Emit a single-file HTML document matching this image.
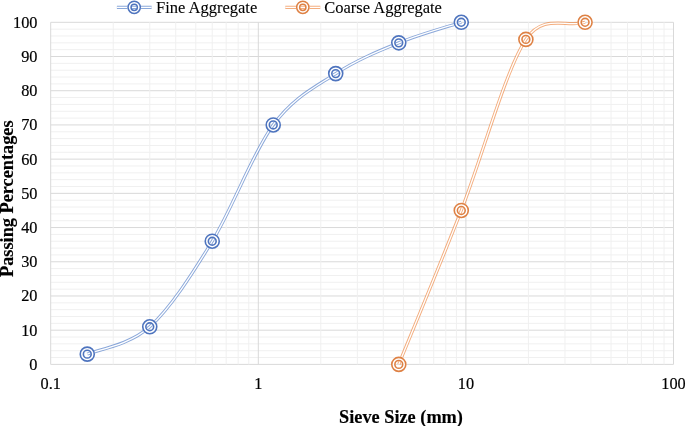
<!DOCTYPE html>
<html><head><meta charset="utf-8"><style>
html,body{margin:0;padding:0;background:#fff;}
body{width:685px;height:426px;overflow:hidden;}
svg{display:block;}
#w{will-change:transform;width:685px;height:426px;}
text{font-family:"Liberation Serif",serif;font-size:16.3px;fill:#000;stroke:#000;stroke-width:0.2px;}
</style></head><body><div id="w">
<svg width="685" height="426" viewBox="0 0 685 426">
<path d="M50.70 357.56H673.50M50.70 350.72H673.50M50.70 343.87H673.50M50.70 337.03H673.50M50.70 323.35H673.50M50.70 316.51H673.50M50.70 309.66H673.50M50.70 302.82H673.50M50.70 289.14H673.50M50.70 282.30H673.50M50.70 275.45H673.50M50.70 268.61H673.50M50.70 254.93H673.50M50.70 248.09H673.50M50.70 241.24H673.50M50.70 234.40H673.50M50.70 220.72H673.50M50.70 213.88H673.50M50.70 207.03H673.50M50.70 200.19H673.50M50.70 186.51H673.50M50.70 179.67H673.50M50.70 172.82H673.50M50.70 165.98H673.50M50.70 152.30H673.50M50.70 145.46H673.50M50.70 138.61H673.50M50.70 131.77H673.50M50.70 118.09H673.50M50.70 111.25H673.50M50.70 104.40H673.50M50.70 97.56H673.50M50.70 83.88H673.50M50.70 77.04H673.50M50.70 70.19H673.50M50.70 63.35H673.50M50.70 49.67H673.50M50.70 42.83H673.50M50.70 35.98H673.50M50.70 29.14H673.50" stroke="#f0f0f0" stroke-width="1" fill="none"/><path d="M50.70 364.40H673.50M50.70 330.19H673.50M50.70 295.98H673.50M50.70 261.77H673.50M50.70 227.56H673.50M50.70 193.35H673.50M50.70 159.14H673.50M50.70 124.93H673.50M50.70 90.72H673.50M50.70 56.51H673.50M50.70 22.30H673.50" stroke="#d9d9d9" stroke-width="1" fill="none"/><path d="M113.19 22.30V364.40M149.75 22.30V364.40M175.69 22.30V364.40M195.81 22.30V364.40M212.24 22.30V364.40M226.14 22.30V364.40M238.18 22.30V364.40M248.80 22.30V364.40M320.79 22.30V364.40M357.35 22.30V364.40M383.29 22.30V364.40M403.41 22.30V364.40M419.84 22.30V364.40M433.74 22.30V364.40M445.78 22.30V364.40M456.40 22.30V364.40M528.39 22.30V364.40M564.95 22.30V364.40M590.89 22.30V364.40M611.01 22.30V364.40M627.44 22.30V364.40M641.34 22.30V364.40M653.38 22.30V364.40M664.00 22.30V364.40" stroke="#f0f0f0" stroke-width="1" fill="none"/><path d="M50.70 22.30V364.40M258.30 22.30V364.40M465.90 22.30V364.40M673.50 22.30V364.40" stroke="#d9d9d9" stroke-width="1" fill="none"/><path d="M87.26 354.14 C97.68 349.58 128.92 345.59 149.75 326.77 C170.58 307.95 191.66 274.88 212.24 241.24 C232.82 207.60 252.64 152.87 273.22 124.93 C293.80 96.99 314.79 87.30 335.72 73.62 C356.65 59.94 377.85 51.38 398.78 42.83 C419.71 34.28 450.86 25.72 461.28 22.30" fill="none" stroke="#4472C4" stroke-opacity="0.62" stroke-width="3.2"/><path d="M87.26 354.14 C97.68 349.58 128.92 345.59 149.75 326.77 C170.58 307.95 191.66 274.88 212.24 241.24 C232.82 207.60 252.64 152.87 273.22 124.93 C293.80 96.99 314.79 87.30 335.72 73.62 C356.65 59.94 377.85 51.38 398.78 42.83 C419.71 34.28 450.86 25.72 461.28 22.30" fill="none" stroke="#fff" stroke-width="1.3"/><path d="M398.78 364.40 C409.20 338.74 440.10 264.62 461.28 210.45 C482.46 156.28 505.25 70.76 525.88 39.40 C543.19 13.08 566.34 27.71 585.07 22.30" fill="none" stroke="#ED7D31" stroke-opacity="0.62" stroke-width="3.2"/><path d="M398.78 364.40 C409.20 338.74 440.10 264.62 461.28 210.45 C482.46 156.28 505.25 70.76 525.88 39.40 C543.19 13.08 566.34 27.71 585.07 22.30" fill="none" stroke="#fff" stroke-width="1.3"/><circle cx="87.26" cy="354.14" r="5.450" fill="none" stroke="#fff" stroke-width="4.700"/><circle cx="87.26" cy="354.14" r="7.000" fill="none" stroke="#456DBA" stroke-opacity="0.95" stroke-width="1.6"/><circle cx="87.26" cy="354.14" r="3.900" fill="none" stroke="#456DBA" stroke-opacity="0.95" stroke-width="1.6"/><circle cx="149.75" cy="326.77" r="5.450" fill="none" stroke="#fff" stroke-width="4.700"/><circle cx="149.75" cy="326.77" r="7.000" fill="none" stroke="#456DBA" stroke-opacity="0.95" stroke-width="1.6"/><circle cx="149.75" cy="326.77" r="3.900" fill="none" stroke="#456DBA" stroke-opacity="0.95" stroke-width="1.6"/><circle cx="212.24" cy="241.24" r="5.450" fill="none" stroke="#fff" stroke-width="4.700"/><circle cx="212.24" cy="241.24" r="7.000" fill="none" stroke="#456DBA" stroke-opacity="0.95" stroke-width="1.6"/><circle cx="212.24" cy="241.24" r="3.900" fill="none" stroke="#456DBA" stroke-opacity="0.95" stroke-width="1.6"/><circle cx="273.22" cy="124.93" r="5.450" fill="none" stroke="#fff" stroke-width="4.700"/><circle cx="273.22" cy="124.93" r="7.000" fill="none" stroke="#456DBA" stroke-opacity="0.95" stroke-width="1.6"/><circle cx="273.22" cy="124.93" r="3.900" fill="none" stroke="#456DBA" stroke-opacity="0.95" stroke-width="1.6"/><circle cx="335.72" cy="73.62" r="5.450" fill="none" stroke="#fff" stroke-width="4.700"/><circle cx="335.72" cy="73.62" r="7.000" fill="none" stroke="#456DBA" stroke-opacity="0.95" stroke-width="1.6"/><circle cx="335.72" cy="73.62" r="3.900" fill="none" stroke="#456DBA" stroke-opacity="0.95" stroke-width="1.6"/><circle cx="398.78" cy="42.83" r="5.450" fill="none" stroke="#fff" stroke-width="4.700"/><circle cx="398.78" cy="42.83" r="7.000" fill="none" stroke="#456DBA" stroke-opacity="0.95" stroke-width="1.6"/><circle cx="398.78" cy="42.83" r="3.900" fill="none" stroke="#456DBA" stroke-opacity="0.95" stroke-width="1.6"/><circle cx="461.28" cy="22.3" r="5.450" fill="none" stroke="#fff" stroke-width="4.700"/><circle cx="461.28" cy="22.3" r="7.000" fill="none" stroke="#456DBA" stroke-opacity="0.95" stroke-width="1.6"/><circle cx="461.28" cy="22.3" r="3.900" fill="none" stroke="#456DBA" stroke-opacity="0.95" stroke-width="1.6"/><circle cx="398.78" cy="364.4" r="5.450" fill="none" stroke="#fff" stroke-width="4.700"/><circle cx="398.78" cy="364.4" r="7.000" fill="none" stroke="#DC7A3A" stroke-opacity="0.95" stroke-width="1.6"/><circle cx="398.78" cy="364.4" r="3.900" fill="none" stroke="#DC7A3A" stroke-opacity="0.95" stroke-width="1.6"/><circle cx="461.28" cy="210.45" r="5.450" fill="none" stroke="#fff" stroke-width="4.700"/><circle cx="461.28" cy="210.45" r="7.000" fill="none" stroke="#DC7A3A" stroke-opacity="0.95" stroke-width="1.6"/><circle cx="461.28" cy="210.45" r="3.900" fill="none" stroke="#DC7A3A" stroke-opacity="0.95" stroke-width="1.6"/><circle cx="525.88" cy="39.4" r="5.450" fill="none" stroke="#fff" stroke-width="4.700"/><circle cx="525.88" cy="39.4" r="7.000" fill="none" stroke="#DC7A3A" stroke-opacity="0.95" stroke-width="1.6"/><circle cx="525.88" cy="39.4" r="3.900" fill="none" stroke="#DC7A3A" stroke-opacity="0.95" stroke-width="1.6"/><circle cx="585.07" cy="22.3" r="5.450" fill="none" stroke="#fff" stroke-width="4.700"/><circle cx="585.07" cy="22.3" r="7.000" fill="none" stroke="#DC7A3A" stroke-opacity="0.95" stroke-width="1.6"/><circle cx="585.07" cy="22.3" r="3.900" fill="none" stroke="#DC7A3A" stroke-opacity="0.95" stroke-width="1.6"/><path d="M116.9 7.4H151.6" stroke="#4472C4" stroke-opacity="0.62" stroke-width="3.2"/><path d="M116.9 7.4H151.6" stroke="#fff" stroke-width="1.3"/><circle cx="134.2" cy="7.3" r="4.650" fill="none" stroke="#fff" stroke-width="4.500"/><circle cx="134.2" cy="7.3" r="6.150" fill="none" stroke="#456DBA" stroke-opacity="0.95" stroke-width="1.5"/><circle cx="134.2" cy="7.3" r="3.150" fill="none" stroke="#456DBA" stroke-opacity="0.95" stroke-width="1.5"/><path d="M285.3 7.4H320.3" stroke="#ED7D31" stroke-opacity="0.62" stroke-width="3.2"/><path d="M285.3 7.4H320.3" stroke="#fff" stroke-width="1.3"/><circle cx="302.8" cy="7.3" r="4.650" fill="none" stroke="#fff" stroke-width="4.500"/><circle cx="302.8" cy="7.3" r="6.150" fill="none" stroke="#DC7A3A" stroke-opacity="0.95" stroke-width="1.5"/><circle cx="302.8" cy="7.3" r="3.150" fill="none" stroke="#DC7A3A" stroke-opacity="0.95" stroke-width="1.5"/>
<text x="37.5" y="369.90" text-anchor="end">0</text><text x="37.5" y="335.69" text-anchor="end">10</text><text x="37.5" y="301.48" text-anchor="end">20</text><text x="37.5" y="267.27" text-anchor="end">30</text><text x="37.5" y="233.06" text-anchor="end">40</text><text x="37.5" y="198.85" text-anchor="end">50</text><text x="37.5" y="164.64" text-anchor="end">60</text><text x="37.5" y="130.43" text-anchor="end">70</text><text x="37.5" y="96.22" text-anchor="end">80</text><text x="37.5" y="62.01" text-anchor="end">90</text><text x="37.5" y="27.80" text-anchor="end">100</text><text x="50.70" y="388.8" text-anchor="middle">0.1</text><text x="258.30" y="388.8" text-anchor="middle">1</text><text x="465.90" y="388.8" text-anchor="middle">10</text><text x="673.50" y="388.8" text-anchor="middle">100</text><text x="156" y="13.2" style="font-size:16.5px;stroke-width:0.1px">Fine Aggregate</text><text x="324.2" y="13.2" style="font-size:16.5px;stroke-width:0.1px">Coarse Aggregate</text><text x="401" y="422.6" text-anchor="middle" style="font-weight:bold;font-size:18.3px;stroke-width:0.15px">Sieve Size (mm)</text><text transform="translate(13.0 198.7) rotate(-90)" text-anchor="middle" style="font-weight:bold;font-size:18.3px;stroke-width:0.15px">Passing Percentages</text>
</svg></div>
</body></html>
